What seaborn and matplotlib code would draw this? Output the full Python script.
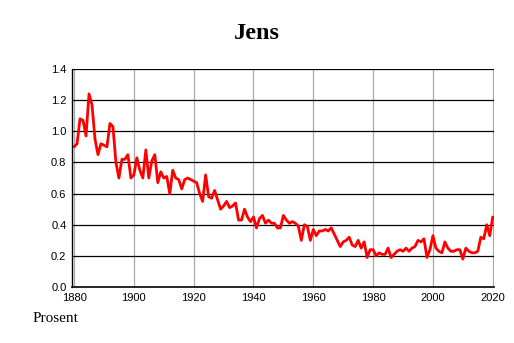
import numpy as np
import pandas as pd
import seaborn as sns
import matplotlib
matplotlib.use("Agg")
import matplotlib.pyplot as plt
from matplotlib.ticker import MultipleLocator

years = list(range(1880, 2021))
values = [
    0.90, 0.92, 1.08, 1.07, 0.97, 1.24, 1.17, 0.95, 0.85, 0.92,
    0.91, 0.90, 1.05, 1.03, 0.80, 0.70, 0.82, 0.82, 0.85, 0.70,
    0.72, 0.83, 0.75, 0.70, 0.88, 0.70, 0.81, 0.85, 0.67, 0.74,
    0.70, 0.71, 0.60, 0.75, 0.70, 0.69, 0.63, 0.69, 0.70, 0.69,
    0.68, 0.67, 0.60, 0.55, 0.72, 0.58, 0.57, 0.62, 0.56, 0.50,
    0.52, 0.55, 0.51, 0.52, 0.54, 0.43, 0.43, 0.50, 0.45, 0.42,
    0.45, 0.38, 0.44, 0.46, 0.41, 0.43, 0.41, 0.41, 0.38, 0.38,
    0.46, 0.43, 0.41, 0.42, 0.41, 0.39, 0.30, 0.40, 0.39, 0.30,
    0.37, 0.33, 0.36, 0.36, 0.37, 0.36, 0.38, 0.34, 0.30, 0.26,
    0.29, 0.30, 0.32, 0.27, 0.26, 0.30, 0.25, 0.29, 0.19, 0.24,
    0.24, 0.20, 0.22, 0.21, 0.21, 0.25, 0.19, 0.21, 0.23, 0.24,
    0.23, 0.25, 0.23, 0.25, 0.26, 0.30, 0.29, 0.31, 0.19, 0.24,
    0.33, 0.25, 0.23, 0.22, 0.29, 0.25, 0.23, 0.23, 0.24, 0.24,
    0.18, 0.25, 0.23, 0.22, 0.22, 0.23, 0.32, 0.31, 0.40, 0.33,
    0.45,
]
xticks = [1880, 1900, 1920, 1940, 1960, 1980, 2000, 2020]
yticks = [0.0, 0.2, 0.4, 0.6, 0.8, 1.0, 1.2, 1.4]
title = "Jens"
ylabel_text = "Prosent"

df = pd.DataFrame({"year": years, "value": values})

sns.set_style("white")
fig = plt.figure(figsize=(5.14, 3.43), dpi=100)
ax = fig.add_axes([0.140, 0.163, 0.821, 0.636])

sns.lineplot(data=df, x="year", y="value", ax=ax, color="#ff0000", linewidth=2.0)

ax.set_xlim(1879.3, 2020.4)
ax.set_ylim(0, 1.4)
ax.set_xticks(xticks)
ax.set_yticks(yticks)
ax.set_xticklabels([str(t) for t in xticks])
ax.set_yticklabels([f"{t:.1f}" for t in yticks])
ax.xaxis.set_minor_locator(MultipleLocator(5))
for lab in ax.get_xticklabels() + ax.get_yticklabels():
    lab.set_fontfamily("Liberation Sans")
    lab.set_fontsize(8)
    lab.set_color("#000000")
ax.tick_params(axis="x", which="both", direction="in", length=3, color="#999999", pad=4)
ax.tick_params(axis="y", which="both", length=0, pad=4)

ax.set_axisbelow(True)
for t in xticks:
    ax.axvline(t, color="#aaaaaa", linewidth=0.9, zorder=0)
for t in yticks[1:]:
    ax.axhline(t, color="#000000", linewidth=0.9, zorder=0)

for s in ["top", "right"]:
    ax.spines[s].set_visible(False)
ax.spines["left"].set_color("#000000")
ax.spines["bottom"].set_color("#000000")
ax.spines["left"].set_linewidth(1.0)
ax.spines["bottom"].set_linewidth(1.2)
ax.set_xlabel("")
ax.set_ylabel("")

fig.text(0.5, 0.902, title, ha="center", va="center", fontsize=17.5, fontweight="bold",
         family="Liberation Serif", color="#000000")
fig.text(0.064, 0.072, ylabel_text, ha="left", va="center", fontsize=11,
         family="Liberation Serif", color="#000000")

fig.savefig("out.png", dpi=100)
